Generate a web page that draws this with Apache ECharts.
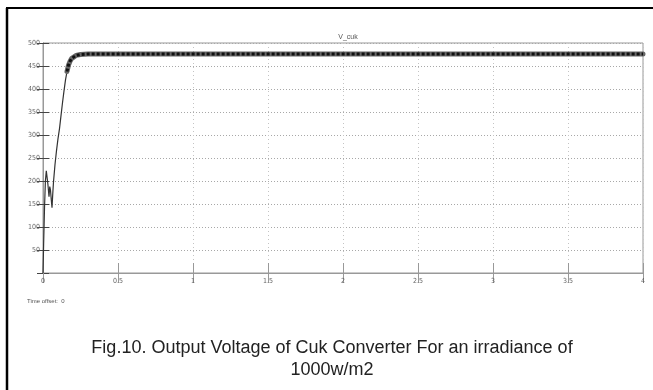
<!DOCTYPE html>
<html>
<head>
<meta charset="utf-8">
<script src="https://cdn.jsdelivr.net/npm/echarts@6/dist/echarts.min.js"></script>
<style>
html,body{margin:0;padding:0;background:#fff;}
#chart{width:653px;height:390px;}
</style>
</head>
<body>
<div id="chart"></div>
<script>
// ---- data ----
const chartTitle = 'V_cuk';
const captionLine1 = 'Fig.10. Output Voltage of Cuk Converter For an irradiance of';
const captionLine2 = '1000w/m2';
const timeOffsetText = 'Time offset:  0';

const xTicks = [0, 0.5, 1, 1.5, 2, 2.5, 3, 3.5, 4];
const yTicks = [50, 100, 150, 200, 250, 300, 350, 400, 450, 500];

// time (s)
const timeValues = [0, 0.004, 0.01, 0.016, 0.022, 0.027, 0.033, 0.04, 0.045, 0.05, 0.055, 0.06, 0.065, 0.07,
  0.08, 0.09, 0.1, 0.11, 0.12, 0.13, 0.14, 0.15, 0.16, 0.17, 0.18, 0.19, 0.2, 0.22, 0.25, 0.3, 0.5, 1, 2, 3, 4];
// output voltage (V)
const voltageValues = [0, 60, 140, 200, 222, 226, 192, 166, 188, 180, 160, 142, 172, 198,
  236, 266, 292, 314, 342, 370, 396, 420, 438, 452, 460, 466, 470, 473, 475, 476, 476, 476, 476, 476, 476];
// ripple envelope (thick band) starts once the converter approaches steady state
const rippleStart = 0.16;

// ---- build ----
const mainData = timeValues.map((t, i) => [t, voltageValues[i]]);
const rippleData = mainData.filter(p => p[0] >= rippleStart);

const tickFont = {fontSize: 7, color: '#666', fontFamily: 'Liberation Sans Narrow, DejaVu Sans Condensed, sans-serif'};

const chart = echarts.init(document.getElementById('chart'), null, {renderer: 'canvas'});
chart.setOption({
  animation: false,
  backgroundColor: '#fff',
  title: [
    {text: chartTitle, left: 343, top: 29, textAlign: 'center',
      textStyle: {fontSize: 7, fontWeight: 'normal', color: '#555', fontFamily: 'Liberation Sans Narrow, sans-serif'}},
    {text: captionLine1 + '\n' + captionLine2, left: 327, top: 332, textAlign: 'center',
      textStyle: {fontSize: 18, fontWeight: 'normal', color: '#222', lineHeight: 22, fontFamily: 'Liberation Sans, Arial, sans-serif'}}
  ],
  graphic: [
    {type: 'line', shape: {x1: 7, y1: 8, x2: 7, y2: 390}, style: {stroke: '#000', lineWidth: 2.5}},
    {type: 'line', shape: {x1: 6, y1: 8, x2: 653, y2: 8}, style: {stroke: '#000', lineWidth: 2}},
    {type: 'text', left: 27, top: 298, style: {text: timeOffsetText, fontSize: 6, fill: '#555', fontFamily: 'Liberation Sans Narrow, sans-serif'}}
  ],
  grid: {left: 43, right: 10, top: 43, bottom: 117, show: true, borderColor: '#999', borderWidth: 1},
  xAxis: [
    {type: 'value', min: 0, max: 4, interval: 0.5, position: 'bottom',
      axisLine: {show: true, lineStyle: {color: '#999'}},
      axisTick: {show: true, inside: true, length: 10, lineStyle: {color: '#999'}},
      axisLabel: Object.assign({margin: 5, formatter: v => xTicks.includes(v) ? String(v) : ''}, tickFont),
      splitLine: {show: true, lineStyle: {color: '#c4c4c4', type: [1, 3], width: 1}}},
    {type: 'value', min: 0, max: 4, interval: 0.5, position: 'top',
      axisLine: {show: true, lineStyle: {color: '#999'}},
      axisTick: {show: true, inside: true, length: 10, lineStyle: {color: '#999'}},
      axisLabel: {show: false}, splitLine: {show: false}}
  ],
  yAxis: [
    {type: 'value', min: 0, max: 500, interval: 50, position: 'left',
      axisLine: {show: true, lineStyle: {color: '#999'}},
      axisTick: {show: true, inside: true, length: 6, lineStyle: {color: '#444'}},
      axisLabel: Object.assign({margin: 3, formatter: v => yTicks.includes(v) ? String(v) : ''}, tickFont),
      splitLine: {show: true, lineStyle: {color: '#a8a8a8', type: [1, 2], width: 1}}},
    {type: 'value', min: 0, max: 500, interval: 50, position: 'right',
      axisLine: {show: true, lineStyle: {color: '#999'}},
      axisTick: {show: true, inside: true, length: 6, lineStyle: {color: '#444'}},
      axisLabel: {show: false}, splitLine: {show: false}}
  ],
  series: [
    {type: 'line', data: mainData, showSymbol: false, symbol: 'none',
      lineStyle: {color: '#333', width: 1.2}},
    {type: 'line', data: rippleData, showSymbol: false, symbol: 'none',
      lineStyle: {color: '#666', width: 5, cap: 'round', join: 'round'}},
    {type: 'line', data: rippleData, showSymbol: false, symbol: 'none',
      lineStyle: {color: '#111', width: 3, type: [3, 2]}}
  ]
});
</script>
</body>
</html>
